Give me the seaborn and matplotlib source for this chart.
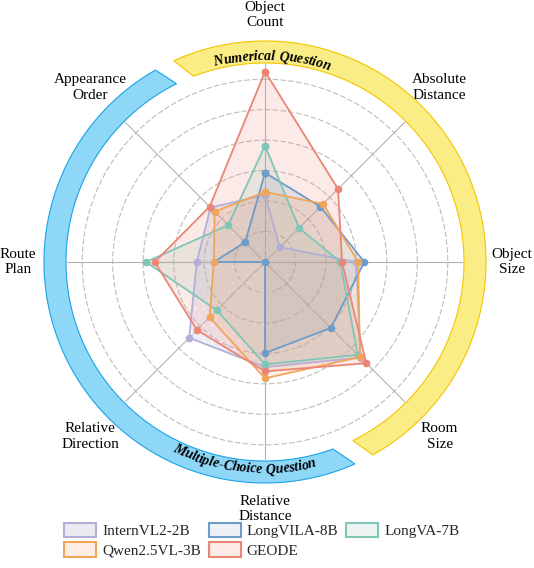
import numpy as np
import pandas as pd
import matplotlib
matplotlib.use('Agg')
import matplotlib.pyplot as plt
import seaborn as sns
from matplotlib.patches import Patch
from matplotlib.legend_handler import HandlerTuple

categories = ['Object\nCount', 'Absolute\nDistance', 'Object\nSize', 'Room\nSize',
              'Relative\nDistance', 'Relative\nDirection', 'Route\nPlan', 'Appearance\nOrder']
models = ['InternVL2-2B', 'LongVILA-8B', 'LongVA-7B', 'Qwen2.5VL-3B', 'GEODE']
internvl = [22.0, 6.9, 29.9, 44.4, 34.5, 35.2, 22.4, 25.3]
longvila = [29.3, 25.7, 32.6, 30.6, 29.9, 0.0, 16.8, 9.2]
longva = [38.2, 15.8, 24.7, 43.1, 33.6, 22.4, 39.1, 17.1]
qwen = [23.0, 27.0, 30.6, 44.1, 38.2, 25.7, 16.8, 23.4]
geode = [62.5, 33.9, 25.3, 47.0, 35.9, 31.6, 36.2, 25.7]
groups = ['Numerical Question', 'Multiple-Choice Question']

line_colors = ['#b3afd7', '#6f9bc9', '#7fc6b6', '#f0a55b', '#eb8576']
face_colors = ['#e9ebf1', '#edf1f5', '#edf2f3', '#fdede5', '#fdebe7']
band_face = ['#faed85', '#8fd7f7']
band_edge = ['#f5c400', '#1aa3e8']

sns.set_theme(style='white')
plt.rcParams['font.family'] = ['Liberation Serif', 'DejaVu Serif']
plt.rcParams['hatch.color'] = 'white'
plt.rcParams['hatch.linewidth'] = 1.0

RMAX = 65.0
R_PX = 198.0

def px2r(p):
    return p * RMAX / R_PX

fig = plt.figure(figsize=(5.34, 5.68), dpi=100)
ax = fig.add_axes([67 / 534, 108 / 568, 396 / 534, 396 / 568], projection='polar')
ax.set_theta_zero_location('N')
ax.set_theta_direction(-1)

n = len(categories)
angles = np.arange(n) * 2 * np.pi / n
series = [internvl, longvila, longva, qwen, geode]

rows = []
for m, vals in zip(models, series):
    for th, v in zip(list(angles) + [2 * np.pi], list(vals) + [vals[0]]):
        rows.append({'model': m, 'theta': th, 'value': v})
df = pd.DataFrame(rows)

# fills
for i, (m, vals) in enumerate(zip(models, series)):
    if m == 'InternVL2-2B':
        ax.fill(angles, vals, facecolor=line_colors[i], alpha=0.22, edgecolor='none', zorder=2)
        ax.fill(angles, vals, facecolor='none', edgecolor='white', hatch='..', lw=0, alpha=0.6, zorder=2)
    else:
        ax.fill(angles, vals, facecolor=line_colors[i], alpha=0.17, edgecolor='none', zorder=2)

sns.lineplot(data=df, x='theta', y='value', hue='model', hue_order=models,
             palette=dict(zip(models, line_colors)), sort=False, estimator=None,
             marker='o', markersize=5.5, markeredgewidth=0, linewidth=1.3,
             legend=False, ax=ax, zorder=3)
ax.set_xlabel('')
ax.set_ylabel('')

# grid
ax.set_ylim(0, RMAX)
ax.set_yticks(np.arange(10, 61, 10))
ax.set_yticklabels([])
ax.yaxis.grid(True, color='#bdbdbd', linestyle=(0, (5, 2)), linewidth=0.8)
ax.set_xticks([])
ax.xaxis.grid(False)
ax.spines['polar'].set_visible(False)
for th in angles:
    ax.plot([th, th], [0, RMAX], color='#b3b3b3', lw=0.8, zorder=1)

# category labels
for th, lab in zip(angles, categories):
    ax.text(th, px2r(247), lab, ha='center', va='center', fontsize=11,
            color='black', linespacing=1.25)

# group bands (inner start, inner end, outer start, outer end in degrees)
band_angles = [(-21.0, 153.8, -24.4, 150.8), (160.0, 333.6, 156.0, 330.3)]
for (a0, a1, b0, b1), fc, ec in zip(band_angles, band_face, band_edge):
    t_in = np.radians(np.linspace(a0, a1, 200))
    t_out = np.radians(np.linspace(b1, b0, 200))
    th = np.concatenate([t_in, t_out])
    rr = np.concatenate([np.full(200, px2r(199)), np.full(200, px2r(221))])
    ax.fill(th, rr, facecolor=fc, edgecolor=ec, lw=0.8, clip_on=False, zorder=4)

renderer = fig.canvas.get_renderer()
font_kw = dict(fontsize=10, fontweight='bold', fontstyle='italic')

def text_width(s):
    t = fig.text(0, 0, s, **font_kw)
    w = t.get_window_extent(renderer).width
    t.remove()
    return w

def curved_text(text, theta_c, r_px, upper):
    ref = text_width('||')
    widths = [text_width('|' + ch + '|') - ref for ch in text]
    pos = -sum(widths) / 2
    for ch, w in zip(text, widths):
        s = pos + w / 2
        pos += w
        if upper:
            th = theta_c + s / r_px
            rot = -np.degrees(th)
        else:
            th = theta_c - s / r_px
            rot = 180 - np.degrees(th)
        ax.text(th, px2r(r_px), ch, rotation=rot, ha='center', va='baseline',
                rotation_mode='anchor', color='black', zorder=5, **font_kw)

curved_text(groups[0], np.radians(2), 202, True)
curved_text(groups[1], np.radians(186), 211, False)

# legend
handles = []
for i, m in enumerate(models):
    if m == 'InternVL2-2B':
        h = (Patch(facecolor=face_colors[i], edgecolor='none', hatch='..'),
             Patch(facecolor='none', edgecolor=line_colors[i], lw=1.5))
    else:
        h = Patch(facecolor=face_colors[i], edgecolor=line_colors[i], lw=1.5)
    handles.append(h)
order = [0, 3, 1, 4, 2]
fig.legend([handles[i] for i in order], [models[i] for i in order],
           handler_map={tuple: HandlerTuple(ndivide=1)},
           loc='lower center', bbox_to_anchor=(0.49, -0.006), ncol=3, frameon=False,
           fontsize=11, handlelength=2.1, handleheight=1.1, handletextpad=0.4,
           columnspacing=0.5, labelspacing=0.25)

fig.savefig('out.png', dpi=100)
